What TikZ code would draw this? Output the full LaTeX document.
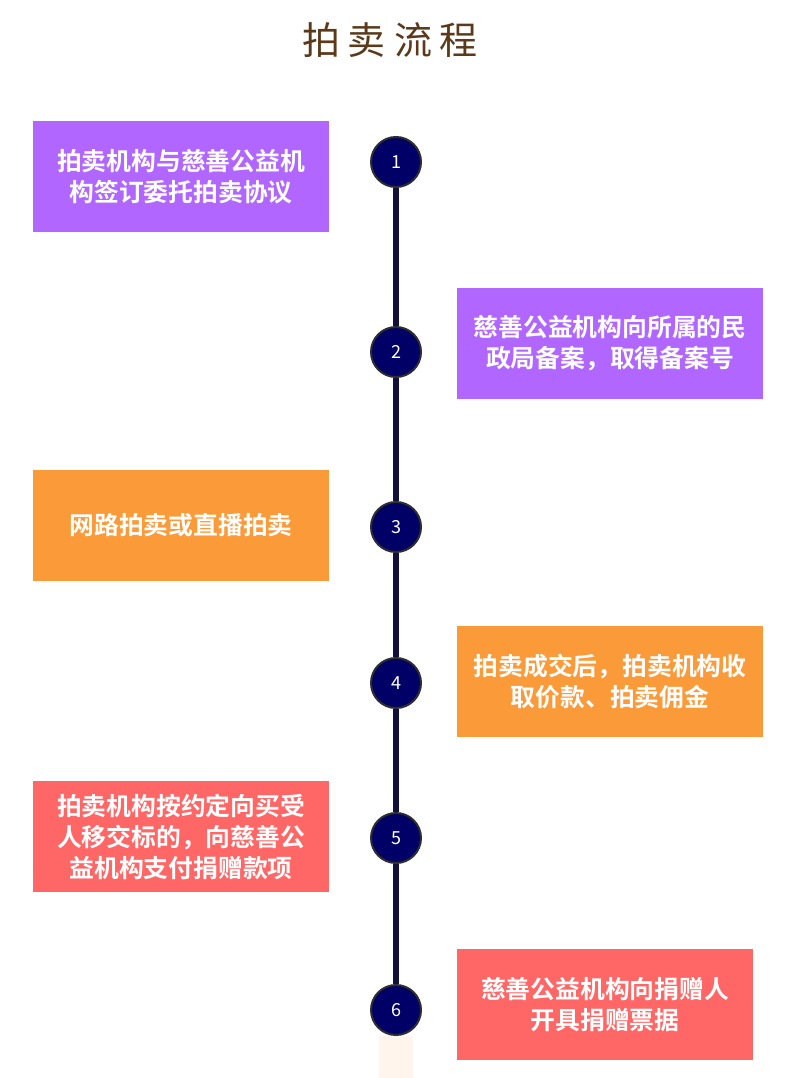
\documentclass[tikz,border=0pt]{standalone}
\usepackage{fontspec}
\newfontfamily\cjk{Noto Sans CJK SC}
\newfontfamily\cjkbold{Noto Sans CJK SC Bold}
\definecolor{cpurple}{HTML}{B066FF}
\definecolor{corange}{HTML}{FB9A38}
\definecolor{cred}{HTML}{FF6666}
\definecolor{cnavy}{HTML}{000066}
\definecolor{cline}{HTML}{10103A}
\definecolor{cring}{HTML}{2E2E2E}
\definecolor{ctitle}{HTML}{5A3A1A}
\definecolor{cbeige}{HTML}{FFF5EC}
\tikzset{
  box/.style={minimum width=296pt, minimum height=111pt, inner sep=0pt, text=white,
    align=center, font=\cjkbold\fontsize{24.8}{31}\selectfont},
  stepcircle/.style={circle, fill=cnavy, draw=cring, line width=2pt, minimum size=50pt,
    inner sep=0pt, text=white, font=\cjk\fontsize{18}{20}\selectfont},
  timeline/.style={draw=cline, line width=6pt}
}
\begin{document}
\begin{tikzpicture}[x=1pt,y=-1pt]
\fill[white] (0,0) rectangle (800,1078);
\useasboundingbox (0,0) rectangle (800,1078);
\node[font=\cjk\fontsize{38}{42}\selectfont, text=ctitle] (title) at (390,40) {拍\hspace{8pt}卖\hspace{8pt}流\hspace{8pt}程};
% boxes
\node[box, fill=cpurple] (b1) at (181,176.5) {拍卖机构与慈善公益机\\构签订委托拍卖协议};
\node[box, fill=cpurple, minimum width=306pt] (b2) at (610,343.5) {慈善公益机构向所属的民\\政局备案，取得备案号};
\node[box, fill=corange] (b3) at (181,525.5) {网路拍卖或直播拍卖};
\node[box, fill=corange, minimum width=306pt] (b4) at (610,681.5) {拍卖成交后，拍卖机构收\\取价款、拍卖佣金};
\node[box, fill=cred] (b5) at (181,836.5) {拍卖机构按约定向买受\\人移交标的，向慈善公\\益机构支付捐赠款项};
\node[box, fill=cred] (b6) at (605,1004.5) {慈善公益机构向捐赠人\\开具捐赠票据};
% beige strip
\fill[cbeige] (379,1036) rectangle (413,1078);
% circles
\node[stepcircle] (c1) at (396,162) {1};
\node[stepcircle] (c2) at (396,352) {2};
\node[stepcircle] (c3) at (396,527) {3};
\node[stepcircle] (c4) at (396,683) {4};
\node[stepcircle] (c5) at (396,838) {5};
\node[stepcircle] (c6) at (396,1010) {6};
% timeline
\draw[timeline] (c1.south) -- (c2.north);
\draw[timeline] (c2.south) -- (c3.north);
\draw[timeline] (c3.south) -- (c4.north);
\draw[timeline] (c4.south) -- (c5.north);
\draw[timeline] (c5.south) -- (c6.north);
\end{tikzpicture}
\end{document}
